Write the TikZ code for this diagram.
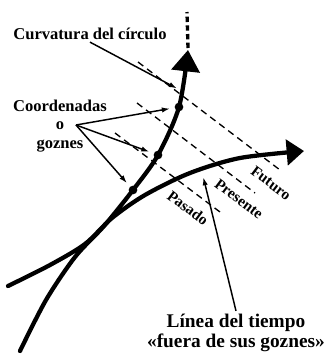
\documentclass[tikz,border=0pt]{standalone}
\usepackage{fontspec}
\setmainfont{Liberation Serif}
\usetikzlibrary{arrows.meta, positioning}

\begin{document}
\begin{tikzpicture}[
    x=0.75pt, y=-0.75pt,
    lbl/.style={font=\fontsize{12.4}{14}\selectfont\bfseries, inner sep=2pt},
    biglbl/.style={font=\fontsize{14.5}{15.5}\selectfont\bfseries, align=center, inner sep=2pt},
    rotlbl/.style={font=\fontsize{11.5}{13}\selectfont\bfseries, rotate=-37, inner sep=0pt},
    curve/.style={line width=3.2pt, line cap=round},
    bigtip/.style={-{Triangle[length=16pt,width=21pt]}},
    sidetip/.style={-{Triangle[length=13pt,width=19pt]}},
    pointer/.style={line width=1.1pt, -{Latex[length=6pt,width=4pt]}, shorten >=1pt},
    timeline/.style={line width=1pt, dash pattern=on 5pt off 3.5pt},
    hinge/.style={circle, fill, inner sep=0pt, minimum size=6.5pt}
]
\useasboundingbox (0,0) rectangle (330,354);
% Time lines (past, present, future)
\coordinate (fut1) at (138,62);
\coordinate (fut2) at (280,170);
\coordinate (pre1) at (137,103);
\coordinate (pre2) at (255,193);
\coordinate (pas1) at (115,133);
\coordinate (pas2) at (220,212);
\draw[timeline] (fut1) -- (fut2);
\draw[timeline] (pre1) -- (pre2);
\draw[timeline] (pas1) -- (pas2);
\node[rotlbl] (fut) at (271,183) {Futuro};
\node[rotlbl] (pre) at (239,199) {Presente};
\node[rotlbl] (pas) at (188,208) {Pasado};
% Circle curvature
\draw[curve, bigtip] plot[smooth] coordinates {(20,351) (46,300) (75,257) (104,226) (133,190) (158,155) (179,107) (188,50)};
\coordinate (atip) at (188,48);
\coordinate (atop) at (187,12);
\draw[line width=2.5pt, dash pattern=on 4pt off 2.5pt] (atip) -- (atop);
% Time line out of joint
\draw[curve, sidetip] plot[smooth] coordinates {(8,286) (50,265) (85,244) (112,218) (145,195) (190,173) (240,158) (304,151)};
% Hinges
\node[hinge] (h1) at (133,190) {};
\node[hinge] (h2) at (158,155) {};
\node[hinge] (h3) at (179,107) {};
% Labels
\node[lbl, anchor=base] (curv) at (90,39) {Curvatura del círculo};
\coordinate (curvend) at (178,89);
\draw[pointer] (curv.south) -- (curvend);
\node[lbl, align=center] (coord) at (60,126) {Coordenadas\\o\\goznes};
\coordinate (hub) at (76,125);
\draw[pointer, shorten >=3.5pt] (hub) -- (h3);
\draw[pointer, shorten >=3.5pt] (hub) -- (h2);
\draw[pointer, shorten >=3.5pt] (hub) -- (h1);
\node[biglbl] (linea) at (236,333) {Línea del tiempo\\«fuera de sus goznes»};
\coordinate (lineaend) at (203,176);
\draw[pointer] (linea.north) -- (lineaend);
\end{tikzpicture}
\end{document}
